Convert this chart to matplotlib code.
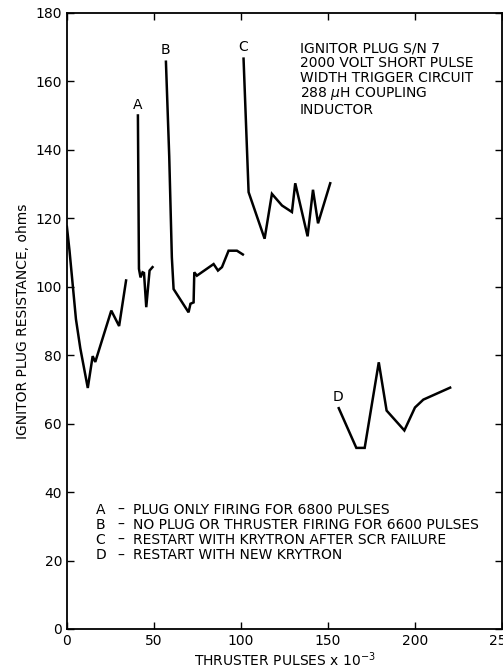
import matplotlib
matplotlib.use("Agg")
import matplotlib.pyplot as plt

# segment before A
x0 = [0, 1.5, 5.2, 7.7, 12.0, 14.8, 16.3, 25.5, 30.0, 34.0]
y0 = [117.5, 110.5, 90.5, 82.0, 70.4, 79.7, 78.0, 93.0, 88.5, 101.8]
# A
xa = [40.8, 41.4, 42.3, 43.5, 44.3, 45.6, 47.5, 49.2]
ya = [150.0, 105.2, 102.7, 104.2, 104.0, 94.0, 104.7, 105.7]
# B
xb = [56.9, 58.8, 60.3, 61.3, 69.9, 71.0, 72.8, 73.2, 74.7, 84.3, 86.8, 89.1, 92.9, 97.7, 101.1]
yb = [165.7, 138.0, 108.6, 99.3, 92.5, 95.0, 95.4, 104.2, 103.2, 106.6, 104.7, 105.7, 110.5, 110.5, 109.4]
# C
xc = [101.5, 104.4, 113.6, 117.8, 123.6, 129.3, 131.2, 138.3, 141.4, 144.3, 151.3]
yc = [166.6, 127.6, 114.0, 127.1, 123.7, 121.8, 130.2, 114.7, 128.3, 118.5, 130.2]
# D
xd = [156.2, 166.3, 171.1, 179.2, 183.7, 193.9, 200.0, 204.8, 220.2]
yd = [64.5, 52.9, 52.9, 77.9, 63.8, 58.0, 64.7, 67.0, 70.5]

labels = ["A", "B", "C", "D"]
label_x = [40.8, 56.9, 101.0, 155.8]
label_y = [153.2, 169.0, 170.0, 67.9]

notes = [("A", "PLUG ONLY FIRING FOR 6800 PULSES"),
         ("B", "NO PLUG OR THRUSTER FIRING FOR 6600 PULSES"),
         ("C", "RESTART WITH KRYTRON AFTER SCR FAILURE"),
         ("D", "RESTART WITH NEW KRYTRON")]

plt.rcParams['font.family'] = ['DejaVu Sans']
fs = 10

fig = plt.figure(figsize=(5.03, 6.72), dpi=100)
ax = fig.add_axes([0.133, 0.064, 0.865, 0.917])

for xs, ys in [(x0, y0), (xa, ya), (xb, yb), (xc, yc), (xd, yd)]:
    ax.plot(xs, ys, color="black", lw=1.8, solid_joinstyle="miter")

for lab, lx, ly in zip(labels, label_x, label_y):
    ax.text(lx, ly, lab, ha="center", va="center", fontsize=fs)

ax.text(0.535, 0.953, "IGNITOR PLUG S/N 7\n2000 VOLT SHORT PULSE\nWIDTH TRIGGER CIRCUIT\n288 $\\mu$H COUPLING\nINDUCTOR",
        transform=ax.transAxes, ha="left", va="top", fontsize=fs, linespacing=1.04)

for i, (k, t) in enumerate(notes):
    yy = 34.7 - i * 4.4
    ax.text(16.5, yy, k, fontsize=fs, va="center")
    ax.text(29.0, yy, "–", fontsize=fs, va="center")
    ax.text(38.0, yy, t, fontsize=fs, va="center")

ax.set_xlim(0, 250)
ax.set_ylim(0, 180)
ax.set_xticks([0, 50, 100, 150, 200, 250])
ax.set_yticks(range(0, 181, 20))
ax.tick_params(direction="in", top=True, right=True, length=5, width=1, labelsize=fs)
for s in ax.spines.values():
    s.set_linewidth(1.3)

ax.set_xlabel("THRUSTER PULSES x 10$^{-3}$", fontsize=fs, labelpad=2)
ax.set_ylabel("IGNITOR PLUG RESISTANCE, ohms", fontsize=fs)

fig.savefig("out.png", dpi=100)
